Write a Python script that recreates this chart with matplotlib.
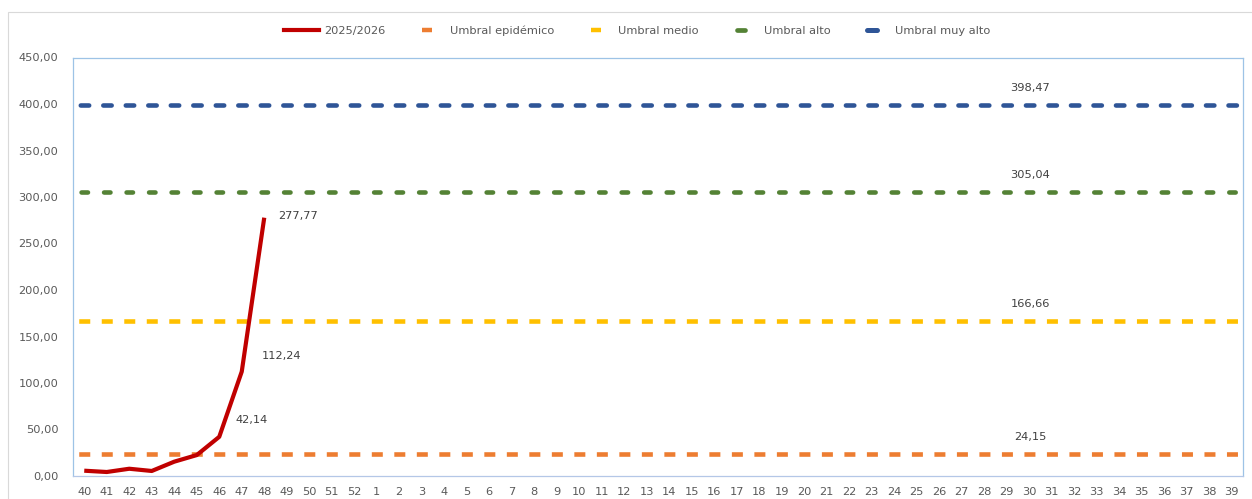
import numpy as np
import matplotlib.pyplot as plt
from matplotlib.lines import Line2D
from matplotlib.markers import MarkerStyle
from matplotlib.patches import Rectangle

# Weeks (season 2025/2026)
weeks = [str(w) for w in range(40, 53)] + [str(w) for w in range(1, 40)]
rate = [5.7, 4.3, 7.8, 5.4, 15.4, 22.5, 42.14, 112.24, 277.77]

# Thresholds
umbral_epidemico = 24.15
umbral_medio = 166.66
umbral_alto = 305.04
umbral_muy_alto = 398.47

W, H = 1252, 499
fig = plt.figure(figsize=(W / 100, H / 100), dpi=100)
ax = fig.add_axes([73 / W, (H - 476) / H, (1243 - 73) / W, (476 - 57.5) / H])

# outer chart frame
fig.patches.append(Rectangle((8 / W, -0.05), 1.0, (H - 12) / H + 0.05,
                             transform=fig.transFigure, fill=False, edgecolor='#d9d9d9', lw=0.8))

x = np.arange(len(weeks))
xs = [x[0] - 0.5, x[-1] + 0.5]
lw = 3.3
ax.plot(xs, [umbral_epidemico] * 2, color='#ED7D31', lw=lw, ls=(3.655, (2.40, 2.51)), dash_capstyle='butt')
ax.plot(xs, [umbral_medio] * 2, color='#FFC000', lw=lw, ls=(3.655, (2.40, 2.51)), dash_capstyle='butt')
ax.plot(xs, [umbral_alto] * 2, color='#548235', lw=lw, ls=(3.15, (1.40, 3.51)), dash_capstyle='round')
ax.plot(xs, [umbral_muy_alto] * 2, color='#2F5597', lw=lw, ls=(3.32, (1.83, 3.08)), dash_capstyle='round')
ax.plot(x[:len(rate)], rate, color='#C00000', lw=3, solid_joinstyle='round', solid_capstyle='butt')

lab_col = '#404040'
fs = 8.2
# point labels
ax.annotate('42,14', (x[6], rate[6]), xytext=(16, 17), textcoords='offset pixels', fontsize=fs,
            color=lab_col, va='center')
ax.annotate('112,24', (x[7], rate[7]), xytext=(20, 16), textcoords='offset pixels', fontsize=fs,
            color=lab_col, va='center')
ax.annotate('277,77', (x[8], rate[8]), xytext=(14, 2), textcoords='offset pixels', fontsize=fs,
            color=lab_col, va='center')
# threshold labels at week 30
i30 = weeks.index('30')
for v in [umbral_epidemico, umbral_medio, umbral_alto, umbral_muy_alto]:
    ax.annotate(f'{v:.2f}'.replace('.', ','), (x[i30], v), xytext=(1, 17), textcoords='offset pixels',
                fontsize=fs, color=lab_col, ha='center', va='center')

ax.set_xlim(-0.5, len(weeks) - 0.5)
ax.set_ylim(0, 450)
ax.set_xticks(x)
ax.set_xticklabels(weeks)
ax.set_yticks(np.arange(0, 451, 50))
ax.set_yticklabels([f'{v:.2f}'.replace('.', ',') for v in np.arange(0, 451, 50)])
ax.tick_params(length=0, labelsize=fs, colors='#595959')
ax.tick_params(axis='y', pad=10.5)
ax.tick_params(axis='x', pad=8)
for s in ax.spines.values():
    s.set_color('#9DC3E6')
    s.set_linewidth(0.9)
ax.spines['bottom'].set_color('#B4C7E7')

mk = MarkerStyle('_', capstyle='butt')
mk_r = MarkerStyle('_', capstyle='round')
handles = [
    Line2D([], [], color='#C00000', lw=3),
    Line2D([], [], ls='none', marker=mk, ms=7.2, mew=3.2, color='#ED7D31'),
    Line2D([], [], ls='none', marker=mk, ms=7.6, mew=3.2, color='#FFC000'),
    Line2D([], [], ls='none', marker=mk_r, ms=5.5, mew=3.4, color='#548235'),
    Line2D([], [], ls='none', marker=mk_r, ms=7.0, mew=3.6, color='#2F5597'),
]
labels = ['2025/2026', 'Umbral epidémico', 'Umbral medio', 'Umbral alto', 'Umbral muy alto']
fig.legend(handles, labels, loc='center', bbox_to_anchor=(637 / W, 1 - 30.5 / H), ncol=5,
           frameon=False, fontsize=fs, labelcolor='#595959', handlelength=3.07, columnspacing=2.15,
           handletextpad=0.44, borderpad=0, borderaxespad=0)

plt.savefig('out.png', dpi=100)
